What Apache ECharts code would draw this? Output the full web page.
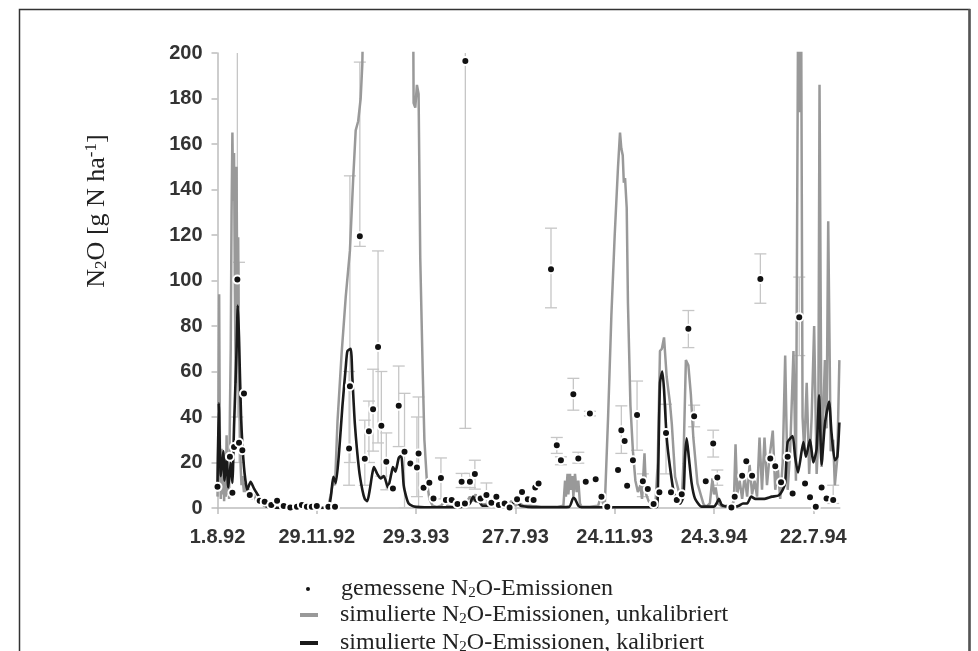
<!DOCTYPE html>
<html><head><meta charset="utf-8">
<script src="https://cdn.jsdelivr.net/npm/echarts@6/dist/echarts.min.js"></script>
<style>html,body{margin:0;padding:0;background:#fff}#c{width:978px;height:651px}</style>
</head><body><div id="c"></div>
<script>
// x values are days since 1.8.92
const xTickLabels = ['1.8.92','29.11.92','29.3.93','27.7.93','24.11.93','24.3.94','22.7.94'];
const seriesNames = ['gemessene N2O-Emissionen','simulierte N2O-Emissionen, unkalibriert','simulierte N2O-Emissionen, kalibriert'];

const simUncal = [
 [0,5],[1,30],[2,94],[3,18],[4,4],[5,26],[6,6],[7,22],[8,3],[9,18],[10,5],[11,32],[12,6],[13,24],[14,4],[15,42],[16,70],[17,130],[18,165],[19,135],[20,156],[21,95],[22,55],[23,150],[24,85],[25,119],[26,55],[27,38],[28,18],[29,10],[30,14],[32,7],[34,11],[36,5],[38,8],[41,4],[44,6],[48,2],[52,3],[56,1],[60,0.5],[65,0],
 [70,0],[100,0],[130,0],[134,1],[137,6],[140,12],[142,10],[145,38],[150,68],[155,93],[160,113],[164,145],[167,166],[170,170],[173,180],[175,195],[178,260],[200,300],[230,280],[236,250],[237,178],[239,176],[241,186],[243,182],[245,110],[248,60],[250,30],[253,12],[256,4],[260,1],[265,0.5],
 [270,1],[275,3],[278,1],[285,0.5],[295,1],[300,2],[305,5],[308,3],[312,6],[315,3],[320,1.5],[330,2],[335,3],[340,1],[345,2],[350,1],[355,3],[360,1],[365,2],[370,1],[380,1],[390,0.5],[400,0.5],[410,0.5],[418,1],[420,12],[421,5],[423,15],[424,6],[426,15],[427,8],[429,14],[430,5],[432,15],[434,7],[436,12],[438,2],[440,0.5],[450,0.5],[460,1],[463,5],[466,2],
 [468,1],[472,40],[476,85],[480,120],[484,150],[486.4,165],[488,158],[489.7,155],[491,143],[492.5,145],[494.5,132],[496,90],[499,45],[502,25],[505,12],[508,7],[511,10],[513,4],[516,24],[518,6],[521,3],[525,1.5],[529,0.5],
 [530,1],[532,20],[534.7,69],[537,70],[539.6,75],[542.8,57.6],[546.8,46],[549,37],[553,13.7],[559,5],[561,3],[563,19.6],[566,65],[569,62.7],[572,50],[575,31],[580,10.8],[587,2],[590,0.5],[595,2],[598,13],[600,6],[602,9],[605,2],[610,0.5],[615,1],[620,0.5],
 [624,3],[626,28],[628,6],[631,12],[634,4],[637,14],[640,5],[643,19],[646,6],[649,12],[652,5],[655,31],[658,8],[661,31],[664,10],[667,22],[671,34],[674,8],[677,18],[680,4],[683,20],[686,67],[689,8],[692,25],[696,69],[699,12],[702,250],[704,174],[705,250],[707,40],[709,25],[712,55],[715,15],[718,40],[721,80],[724,15],[726,30],[727.5,186],[730,18],[734,65],[736,35],[738,126],[741,25],[744,30],[746,10],[749,22],[751.5,65]
];

const simCal = [
 [0,9],[1.5,46],[4,14],[7,25],[8.5,12],[11,22],[13,9],[16,20],[18,11],[20,36],[23,69],[24.5,89],[26,75],[28.5,40],[32,18],[36,8],[40,11.5],[44,8.6],[50,5],[56,1.3],[64,0.3],[80,0],[100,0],[120,0],[134,0.5],[137,5],[140,13.7],[143,11],[147,25],[151,45],[155,62],[157,69],[161,70],[163,57],[166,37],[171,17],[175,8],[178,4],[181,3],[184,8],[187,15],[189,18],[193,15],[197,13],[201,14],[206,9],[210,15],[212,18],[215,16],[219,22],[222,23],[225,10],[228,5],[231,2],[236,0.8],[240,0.5],[250,0.3],[270,0.3],[290,0.3],[300,1],[305,2],[309,5],[312,3],[316,3],[320,1],[330,1],[335,2.5],[340,1],[345,2],[350,0.5],[357,2],[362,3],[366,1],[375,0.5],[400,0.3],[425,0.5],[430,4.5],[432,4],[436,1],[440,0.3],[460,0.3],[480,0.3],[500,0.3],[520,0.3],
 [531,0.5],[532,5],[534.7,55],[537.5,60],[539.6,52],[542.8,31],[546.8,18],[551.7,6.5],[559,2],[563,5],[565,22.5],[567,30.6],[569.5,22.5],[573,10.8],[577,4.2],[585,0.6],[600,0.6],[603,2],[606,4],[609,1.5],[613,0.8],[620,0.5],[625,0.5],[630,1],[635,2],[640,2],[645,5],[650,4],[660,4],[670,5],[678,5.5],[683,8],[686,11],[689,29],[695,31.6],[698,22.5],[701.5,15.6],[708,29],[711,22.5],[716,30],[720,20],[724,26],[727,49.5],[730,19],[734,37],[739,46.8],[742,33],[746,21],[749,22.5],[751.5,37.6]
];

const measured = [
 [0,9.3],[15,22.5],[18,6.7],[20,26.8],[24,100.4],[26,28.7],[30,25.4],[32,50.3],[39,5.7],[51,3.2],[57,2.8],[65,1.3],[72,3.2],[80,0.9],[88,0.2],[96,0.6],[102,1.3],[108,0.6],[114,0.6],[120,0.9],[134,0.6],[142,0.6],
 [159,26.2],[160,53.5],[172,119.4],[178,21.6],[183,33.7],[188,43.4],[194,70.8],[198,36.1],[204,20.3],[212,8.6],[219,44.9],[226,24.7],[233,19.6],[241,17.8],[243,24],[249,8.9],[256,11.1],[261,4.2],[270,13.2],[276,3.5],[283,3.5],[290,1.8],[295,11.5],[299,2],[299.5,196.5],[305,11.5],[311,14.9],[318,4.2],[325,5.7],[331,2.3],[337,5],[340,1.3],[347,2],[353,0.2],[362,3.8],[368,7],[375,3.8],[382,3.5],[384,9],[388,10.8],
 [403,105],[410,27.6],[415,21],[430,50],[436,21.8],[445,11.5],[450,41.5],[457,12.6],[464,5],[471,0.6],[484,16.7],[488,34.2],[492,29.4],[495,9.8],[502,21],[507,40.9],[514,11.8],[520,8.3],[527,1.8],[534,6.9],[542,33],[548,6.9],[555,3.5],[561,6],[569,78.8],[576,40.3],[590,11.8],[599,28.4],[604,13.4],[621,0.2],[625,5],[634,14.2],[639,20.6],[646,14.2],[656,100.7],[668,21.8],[674,18.4],[681,11.3],[689,22.5],[695,6.4],[703,83.9],[710,10.8],[716,4.7],[723,0.6],[730,9],[736,4.2],[744,3.5]
];

// [day, low, high]
const errorBars = [
 [24,40,215],[26,20,108],[159,10,60],[160,20,146],[172,115,196],[178,10,38.6],[183,20,47],[188,25,61],[194,28.6,113],[198,14,60],[204,8,33],[219,27,62.4],[226,0,50.4],[241,5,40],[243,0,48.8],[270,4,22],[295,9,15.2],[299.5,35,215],[305,9,15.2],[311,8.3,21],[325,0.5,11],
 [403,88,123],[410,24,31],[415,19,22.5],[430,43,57],[436,19.7,24.5],[450,40.5,42.5],[488,24,44.9],[507,25.4,55.8],[514,5,15],[542,15,45.6],[569,70.5,86.8],[576,35.7,45.2],[599,22.4,34.2],[604,10,16.7],[656,90,111.7],[703,67,101.5],[744,2,10]
];

const serif = "'Liberation Serif','Times New Roman',serif";
const sans = "'Liberation Sans',Arial,sans-serif";
const richDefs = {
  sub: {fontSize: 15, fontFamily: serif, color: '#222', padding: [9, 0, 0, 0]},
  g1: {width: 25},
  g2: {width: 17}
};
function fmtName(n) { return n.replace('N2O', 'N{sub|2}O'); }

const chart = echarts.init(document.getElementById('c'));
const legendBase = {
  orient: 'vertical', selectedMode: false,
  textStyle: {fontFamily: serif, fontSize: 24, color: '#222', rich: richDefs}
};
chart.setOption({
  animation: false,
  grid: {left: 217.5, right: 138.2, top: 53, bottom: 143},
  xAxis: {
    type: 'value', min: 0, max: 752, interval: 120,
    axisLine: {lineStyle: {color: '#bdbdbd', width: 1.5}},
    axisTick: {length: 6, lineStyle: {color: '#bdbdbd', width: 1.5}},
    splitLine: {show: false},
    axisLabel: {
      formatter: v => (v % 120 === 0 ? xTickLabels[v / 120] : ''),
      showMaxLabel: false,
      fontFamily: sans, fontWeight: 'bold', fontSize: 20, color: '#333', margin: 19
    }
  },
  yAxis: {
    type: 'value', min: 0, max: 200, interval: 20,
    axisLine: {show: true, lineStyle: {color: '#bdbdbd', width: 1.5}},
    axisTick: {show: true, length: 6, lineStyle: {color: '#bdbdbd', width: 1.5}},
    splitLine: {show: false},
    axisLabel: {fontFamily: sans, fontWeight: 'bold', fontSize: 20, color: '#333', margin: 15}
  },
  legend: [
    Object.assign({}, legendBase, {left: 299, top: 572, itemWidth: 6, itemHeight: 6,
      data: [{name: seriesNames[0], icon: 'circle'}],
      formatter: n => '{g1|}' + fmtName(n)}),
    Object.assign({}, legendBase, {left: 295, top: 598, itemWidth: 18, itemHeight: 4,
      data: [{name: seriesNames[1], icon: 'rect'}],
      formatter: n => '{g2|}' + fmtName(n)}),
    Object.assign({}, legendBase, {left: 295, top: 626, itemWidth: 18, itemHeight: 4,
      data: [{name: seriesNames[2], icon: 'rect'}],
      formatter: n => '{g2|}' + fmtName(n)})
  ],
  graphic: [
    {type: 'rect', shape: {x: 19.5, y: 9.5, width: 950, height: 700}, style: {fill: 'none', stroke: '#333', lineWidth: 1.5}, silent: true},
    {type: 'line', shape: {x1: 969.5, y1: 9, x2: 969.5, y2: 651}, style: {stroke: '#555', lineWidth: 2.5}, silent: true},
    {type: 'text', x: 97, y: 211, rotation: Math.PI / 2, silent: true,
      style: {text: 'N{sub|2}O [g N ha{sup|-1}]', fontFamily: serif, fontSize: 26, fill: '#222',
        align: 'center', verticalAlign: 'middle',
        rich: {sub: {fontSize: 17, fontFamily: serif, fill: '#222', padding: [10, 0, 0, 0]},
               sup: {fontSize: 17, fontFamily: serif, fill: '#222', padding: [0, 0, 11, 0]}}}}
  ],
  series: [
    {
      type: 'custom', name: 'err', clip: true, silent: true, z: 1,
      data: errorBars,
      renderItem: function (params, api) {
        const x = api.coord([api.value(0), 0])[0];
        const hiV = api.value(2), loV = api.value(1);
        const yHi = api.coord([0, Math.min(hiV, 200)])[1];
        const yLo = api.coord([0, loV])[1];
        const st = {stroke: '#c6c6c6', lineWidth: 1.3};
        const ch = [{type: 'line', shape: {x1: x, y1: yLo, x2: x, y2: yHi}, style: st}];
        if (hiV <= 200) ch.push({type: 'line', shape: {x1: x - 6, y1: yHi, x2: x + 6, y2: yHi}, style: st});
        ch.push({type: 'line', shape: {x1: x - 6, y1: yLo, x2: x + 6, y2: yLo}, style: st});
        return {type: 'group', children: ch};
      }
    },
    {type: 'line', name: seriesNames[1], data: simUncal, showSymbol: false, clip: true, z: 2,
      lineStyle: {color: '#999', width: 2.5}, itemStyle: {color: '#999'}},
    {type: 'line', name: seriesNames[2], data: simCal, showSymbol: false, clip: true, z: 3, smooth: 0.2,
      lineStyle: {color: '#1a1a1a', width: 2.6}, itemStyle: {color: '#1a1a1a'}},
    {type: 'scatter', name: seriesNames[0], data: measured, symbolSize: 8, z: 4,
      itemStyle: {color: '#111', borderColor: '#fff', borderWidth: 2, opacity: 1}}
  ]
});
</script>
</body></html>
